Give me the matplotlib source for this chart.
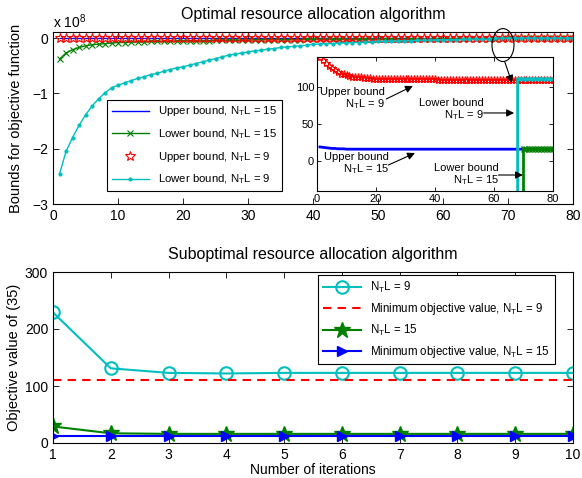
import numpy as np
import matplotlib
matplotlib.use("Agg")
import matplotlib.pyplot as plt
from matplotlib.patches import Ellipse

plt.rcParams["font.family"] = ["Liberation Sans", "DejaVu Sans"]
plt.rcParams["mathtext.fontset"] = "custom"
plt.rcParams["mathtext.rm"] = "Liberation Sans"
plt.rcParams["axes.linewidth"] = 0.8

# Optimal algorithm, iterations 1..80
iterations = np.arange(1, 81)

# upper bound N_T L = 15 (raw objective value)
upper_15 = [19, 18.5, 18, 17.5, 17, 17, 16.5, 16.5, 16.5, 16,
            16, 16, 16, 16, 16, 16, 16, 16, 16, 16,
            16, 16, 16, 16, 16, 16, 16, 16, 16, 16,
            16, 16, 16, 16, 16, 16, 16, 16, 16, 16,
            16, 16, 16, 16, 16, 16, 16, 16, 16, 16,
            16, 16, 16, 16, 16, 16, 16, 16, 16, 16,
            16, 16, 16, 16, 16, 16, 16, 16, 16, 16,
            16, 16, 16, 16, 16, 16, 16, 16, 16, 16]

# lower bound N_T L = 15: iterations 1..69 in units of 1e8, then converged (raw)
lower_15_e8 = [-0.38, -0.27, -0.21, -0.17, -0.14, -0.12, -0.11, -0.10, -0.09, -0.08,
               -0.08, -0.07, -0.07, -0.07, -0.06, -0.06, -0.06, -0.06, -0.05, -0.05,
               -0.05, -0.05, -0.05, -0.05, -0.04, -0.04, -0.04, -0.04, -0.04, -0.04,
               -0.03, -0.03, -0.03, -0.03, -0.03, -0.03, -0.03, -0.03, -0.02, -0.02,
               -0.02, -0.02, -0.02, -0.02, -0.02, -0.02, -0.02, -0.02, -0.02, -0.02,
               -0.02, -0.02, -0.02, -0.02, -0.02, -0.02, -0.02, -0.02, -0.02, -0.02,
               -0.01, -0.01, -0.01, -0.01, -0.01, -0.01, -0.01, -0.01, -0.01]
lower_15_final = [16, 16, 16, 16, 16, 16, 16, 16, 16, 16, 16]

# upper bound N_T L = 9 (raw objective value)
upper_9 = [141, 137, 133, 129, 126, 123, 120, 118, 117, 116,
           115, 114, 114, 113, 113, 112, 112, 112, 111, 111,
           111, 111, 111, 111, 111, 111, 111, 111, 111, 111,
           111, 111, 111, 111, 111, 111, 111, 111, 111, 111,
           110, 110, 110, 110, 110, 110, 110, 110, 110, 110,
           110, 110, 110, 110, 110, 110, 110, 110, 110, 110,
           110, 110, 110, 110, 110, 110, 110, 110, 110, 110,
           110, 110, 110, 110, 110, 110, 110, 110, 110, 110]

# lower bound N_T L = 9: iterations 1..67 in units of 1e8, then converged (raw)
lower_9_e8 = [-2.46, -2.05, -1.80, -1.58, -1.39, -1.23, -1.10, -0.99, -0.90, -0.85,
              -0.81, -0.77, -0.73, -0.70, -0.66, -0.64, -0.60, -0.57, -0.54,
              -0.52, -0.49, -0.46, -0.43, -0.40, -0.37, -0.34, -0.31, -0.29, -0.27,
              -0.25, -0.23, -0.22, -0.20, -0.19, -0.17, -0.16, -0.15, -0.14, -0.13, -0.11,
              -0.11, -0.10, -0.10, -0.09, -0.09, -0.08, -0.08, -0.07, -0.07, -0.06,
              -0.06, -0.06, -0.05, -0.05, -0.05, -0.04, -0.04, -0.04, -0.03, -0.03,
              -0.03, -0.03, -0.02, -0.02, -0.02, -0.02, -0.02]
lower_9_final = [111, 111, 111, 111, 111, 111, 111, 111, 111, 111, 111, 111, 111]

# Suboptimal algorithm, iterations 1..10
sub_iterations = [1, 2, 3, 4, 5, 6, 7, 8, 9, 10]
objective_9 = [229, 131, 123, 122, 123, 123, 123, 123, 123, 123]
minimum_9 = [110, 110, 110, 110, 110, 110, 110, 110, 110, 110]
objective_15 = [29, 17, 16, 16, 16, 16, 16, 16, 16, 16]
minimum_15 = [13, 13, 13, 13, 13, 13, 13, 13, 13, 13]

CYAN = (0, 0.75, 0.75)
GREEN = (0, 0.5, 0)
W, H = 582, 478


def ntl(n):
    return "N$_\\mathregular{T}$L = %d" % n


def px_axes(fig, left, top, right, bottom):
    return fig.add_axes([left / W, 1 - bottom / H, (right - left) / W, (bottom - top) / H])


def style(ax, size=10):
    ax.tick_params(direction="in", top=True, right=True, labelsize=size, length=4, width=0.6)


upper_15 = np.array(upper_15, dtype=float)
upper_9 = np.array(upper_9, dtype=float)
lower_15 = np.concatenate([np.array(lower_15_e8) * 1e8, lower_15_final])
lower_9 = np.concatenate([np.array(lower_9_e8) * 1e8, lower_9_final])

fig = plt.figure(figsize=(W / 100, H / 100), dpi=100)

# ---- top: optimal algorithm ----
ax1 = px_axes(fig, 53, 32, 573, 204)
ax1.plot(iterations, upper_15 / 1e8, color="b", lw=1, label="Upper bound, " + ntl(15))
ax1.plot(iterations, lower_15 / 1e8, color=GREEN, marker="x", ms=5, mew=0.8, lw=1,
         label="Lower bound, " + ntl(15))
ax1.plot(iterations, upper_9 / 1e8, ls="none", marker="*", ms=7, mfc="none", mec="r",
         mew=0.8, label="Upper bound, " + ntl(9))
ax1.plot(iterations, lower_9 / 1e8, color=CYAN, marker=".", ms=4, lw=1,
         label="Lower bound, " + ntl(9))
ax1.set_xlim(0, 80)
ax1.set_ylim(-3, 0.11)
ax1.set_xticks(range(0, 81, 10))
ax1.set_yticks([-3, -2, -1, 0])
style(ax1)
ax1.set_title("Optimal resource allocation algorithm", fontsize=11.5, pad=9)
ax1.set_ylabel("Bounds for objective function", fontsize=10.5)
ax1.yaxis.set_label_coords(-0.058, 0.5)
fig.text(53 / W, 1 - 28 / H, "x 10$^\\mathregular{8}$", fontsize=10, ha="left", va="baseline")
leg = ax1.legend(loc="upper left", bbox_to_anchor=(0.104, 0.605), fontsize=8.2, numpoints=1,
                 handlelength=3.3, fancybox=False, edgecolor="k", framealpha=1,
                 borderaxespad=0, labelspacing=0.78)
leg.get_frame().set_linewidth(0.8)

# zoomed inset
axin = px_axes(fig, 317, 57, 553, 191)
axin.set_zorder(3)
axin.plot(iterations, upper_15, color="b", lw=2)
axin.plot(iterations, lower_15, color=GREEN, marker="x", ms=4, lw=2)
axin.plot(iterations, upper_9, ls="none", marker="*", ms=6, mfc="none", mec="r", mew=0.8)
axin.plot(iterations, lower_9, color=CYAN, marker=".", ms=4, lw=2)
axin.set_xlim(0, 80)
axin.set_ylim(-40.5, 140.5)
axin.set_xticks([0, 20, 40, 60, 80])
axin.set_yticks([0, 50, 100])
style(axin, 8)
axin.tick_params(pad=2, length=3)

arrow = dict(arrowstyle="-|>", color="k", lw=0.8, shrinkA=0, shrinkB=0, mutation_scale=11)
notes = [
    ("Upper bound\n" + ntl(9), (23.1, 83.8), (23.5, 83.8), (32.5, 101.4)),
    ("Lower bound\n" + ntl(9), (56.5, 68.9), (56.5, 64.9), (66.8, 64.9)),
    ("Upper bound\n" + ntl(15), (24.4, -4.0), (24.2, -5.4), (33.2, 10.8)),
    ("Lower bound\n" + ntl(15), (61.7, -18.9), (61.5, -18.9), (69.8, -18.9)),
]
for text, pos, tail, head in notes:
    axin.text(pos[0], pos[1], text, ha="right", va="center", multialignment="right",
              fontsize=8, linespacing=1.0)
    axin.annotate("", xy=head, xytext=tail, arrowprops=arrow)

ellipse = Ellipse((69.23, -0.126), 3.38, 0.595, fill=False, edgecolor="k", lw=0.8,
                  transform=ax1.transData, zorder=5)
fig.add_artist(ellipse)
axin.annotate("", xy=(66.1, 105.6), xytext=(69.5, -0.43), textcoords=ax1.transData,
              arrowprops=arrow, annotation_clip=False)

# ---- bottom: suboptimal algorithm ----
ax2 = px_axes(fig, 53, 272, 573, 443)
ax2.plot(sub_iterations, objective_9, color=CYAN, marker="o", ms=9, mfc="none", mew=1.5,
         lw=1.5, label=ntl(9))
ax2.plot(sub_iterations, minimum_9, color="r", ls="--", dashes=(4, 3), lw=1.5,
         label="Minimum objective value, " + ntl(9))
ax2.plot(sub_iterations, objective_15, color=GREEN, marker="*", ms=12, lw=1.5,
         label=ntl(15))
ax2.plot(sub_iterations, minimum_15, color="b", marker=">", ms=7, lw=1.5,
         label="Minimum objective value, " + ntl(15))
ax2.set_xlim(1, 10)
ax2.set_ylim(0, 300)
ax2.set_xticks(sub_iterations)
ax2.set_yticks([0, 100, 200, 300])
style(ax2)
ax2.set_title("Suboptimal resource allocation algorithm", fontsize=11.5, pad=9)
ax2.set_ylabel("Objective value of (35)", fontsize=10.5)
ax2.yaxis.set_label_coords(-0.062, 0.5)
ax2.set_xlabel("Number of iterations", fontsize=10, labelpad=1)
leg2 = ax2.legend(loc="upper left", bbox_to_anchor=(0.51, 0.982), fontsize=8.3, numpoints=1,
                  handlelength=3.3, fancybox=False, edgecolor="k", framealpha=1,
                  borderaxespad=0, labelspacing=0.52)
leg2.get_frame().set_linewidth(0.8)

fig.savefig("out.png", dpi=100)
